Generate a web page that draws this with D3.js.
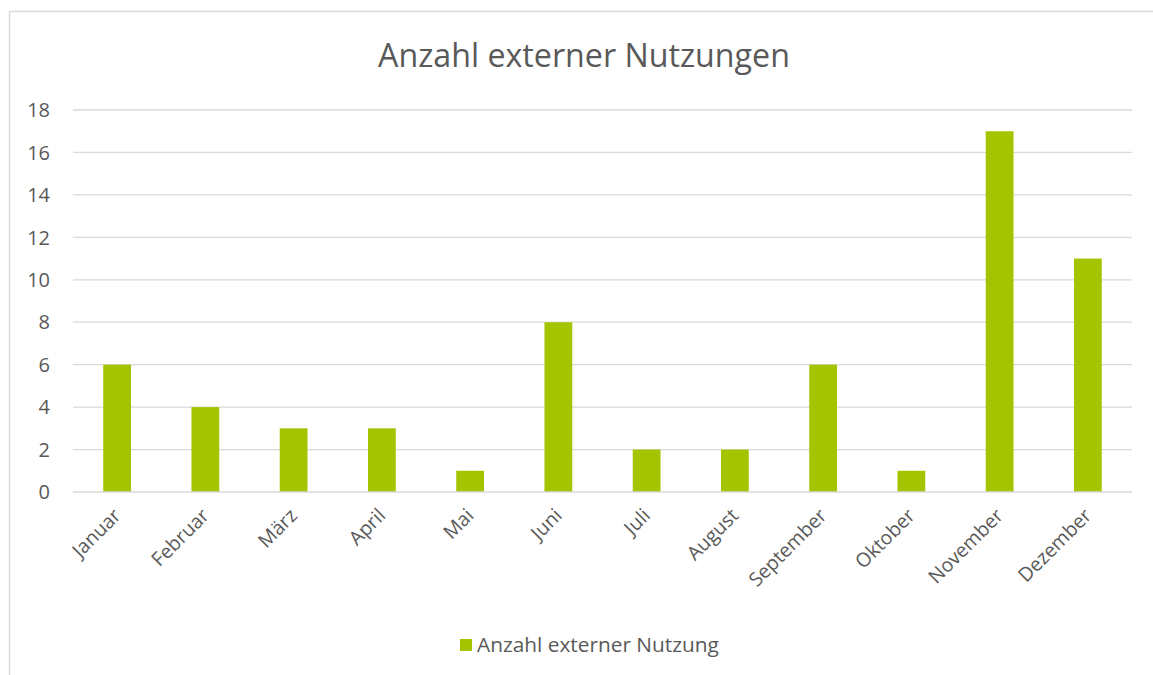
<!DOCTYPE html>
<html><head><meta charset="utf-8">
<script src="https://cdn.jsdelivr.net/npm/d3@7"></script>
<style>body{margin:0;background:#fff}svg{display:block}text{font-family:"Open Sans","Liberation Sans",sans-serif;fill:#595959}</style>
</head><body>
<svg id="c" width="1153" height="675"></svg>
<script>
const months = ["Januar","Februar","März","April","Mai","Juni","Juli","August","September","Oktober","November","Dezember"];
const values = [6,4,3,3,1,8,2,2,6,1,17,11];
const yTicks = [0,2,4,6,8,10,12,14,16,18];
const seriesName = "Anzahl externer Nutzung";
const title = "Anzahl externer Nutzungen";
const barColor = "#A5C400";

const svg = d3.select("#c");
svg.append("rect").attr("x",9.5).attr("y",11.5).attr("width",1200).attr("height",700)
  .attr("fill","#fff").attr("stroke","#d9d9d9").attr("stroke-width",1.5);

const m = {l:73, r:1132, t:110, b:492};
const x = d3.scaleBand().domain(months).range([m.l,m.r]).paddingInner(0.685).paddingOuter(0.3425);
const y = d3.scaleLinear().domain([0,18]).range([m.b,m.t]);

// gridlines
svg.append("g").selectAll("line").data(yTicks.filter(d=>d>0)).join("line")
  .attr("x1",m.l).attr("x2",m.r).attr("y1",d=>y(d)).attr("y2",d=>y(d))
  .attr("stroke","#d9d9d9").attr("stroke-width",1.3);

// y labels
svg.append("g").selectAll("text").data(yTicks).join("text")
  .attr("x",50).attr("y",d=>y(d)).attr("dy","0.36em").attr("text-anchor","end")
  .attr("font-size",20).text(d=>d);

// bars
svg.append("g").selectAll("rect").data(values).join("rect")
  .attr("x",(d,i)=>x(months[i])).attr("width",x.bandwidth())
  .attr("y",d=>y(d)).attr("height",d=>y(0)-y(d)).attr("fill",barColor);

// baseline
svg.append("line").attr("x1",m.l).attr("x2",m.r).attr("y1",y(0)).attr("y2",y(0))
  .attr("stroke","#d9d9d9").attr("stroke-width",1.5);

// x labels
svg.append("g").selectAll("text").data(months).join("text")
  .attr("text-anchor","end").attr("font-size",19.5)
  .attr("transform",d=>`translate(${x(d)+x.bandwidth()/2},${y(0)+20}) rotate(-45)`)
  .attr("dy","0.35em").text(d=>d);

// title
const t = svg.append("text").attr("x",584).attr("y",67).attr("text-anchor","middle")
  .attr("font-size",30).text(title);
const tw = t.node().getComputedTextLength();
t.attr("font-size",30*412/tw);

// legend
svg.append("rect").attr("x",460).attr("y",639).attr("width",12).attr("height",12).attr("fill",barColor);
const lt = svg.append("text").attr("x",477).attr("y",652).attr("font-size",19).text(seriesName);
const lw = lt.node().getComputedTextLength();
lt.attr("font-size",19*242/lw);
</script>
</body></html>
